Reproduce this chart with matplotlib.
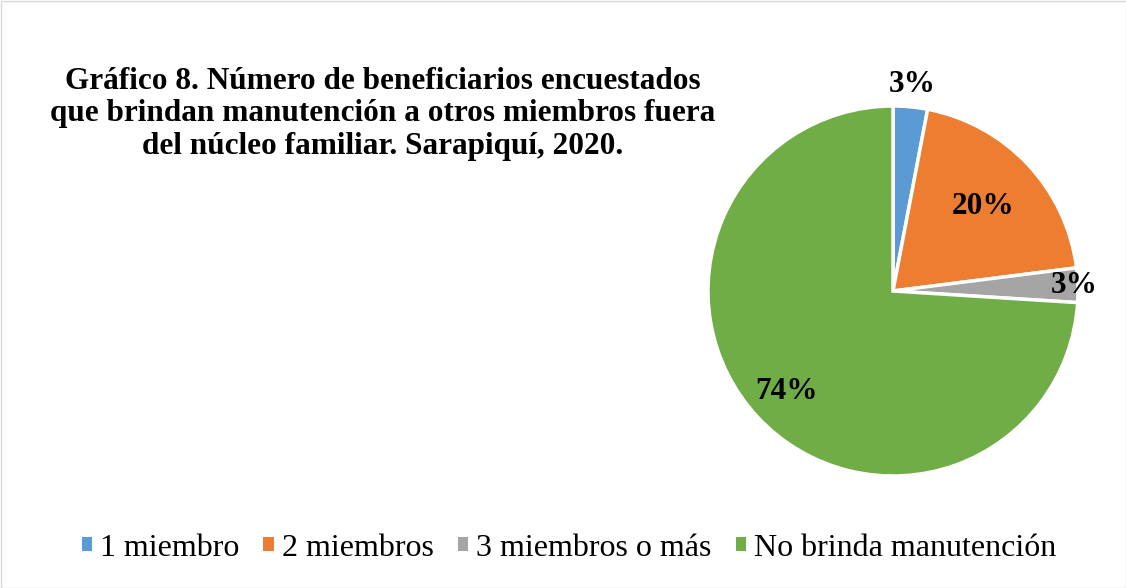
import matplotlib
matplotlib.use("Agg")
import matplotlib.pyplot as plt
import numpy as np
from matplotlib.patches import Patch, Rectangle

categories = ["1 miembro", "2 miembros", "3 miembros o más", "No brinda manutención"]
values = [3, 20, 3, 74]
colors = ["#5B9BD5", "#ED7D31", "#A5A5A5", "#70AD47"]
title = "Gráfico 8. Número de beneficiarios encuestados\nque brindan manutención a otros miembros fuera\ndel núcleo familiar. Sarapiquí, 2020."
label_dist = [1.12, 0.67, 0.98, 0.79]

plt.rcParams['font.family'] = ['Liberation Serif', 'DejaVu Serif']

W, H = 1126, 588
fig = plt.figure(figsize=(W/100, H/100), dpi=100)
fig.patch.set_facecolor("white")
fig.add_artist(Rectangle((0.5/W, 0.5/H), 1-1/W, 1-1/H, transform=fig.transFigure,
                         fill=False, edgecolor="#D9D9D9", linewidth=1))

cx, cy, R = 893, 588-291, 185
ax = fig.add_axes([(cx-R)/W, (cy-R)/H, 2*R/W, 2*R/H])
wedges, texts, autotexts = ax.pie(values, colors=colors, startangle=90, counterclock=False,
                                  radius=1, autopct=lambda p: f"{p:.0f}%",
                                  wedgeprops=dict(edgecolor="white", linewidth=2.5),
                                  textprops=dict(fontsize=22.5, fontweight="bold", color="black"))
for w, t, d in zip(wedges, autotexts, label_dist):
    ang = np.deg2rad((w.theta1 + w.theta2) / 2)
    t.set_position((d*np.cos(ang), d*np.sin(ang)))
    t.set_ha("center"); t.set_va("center")
ax.set_xlim(-1, 1); ax.set_ylim(-1, 1)
ax.set_aspect("equal")
ax.axis("off")

fig.text(383/W, 1-114/H, title, ha="center", va="center", fontsize=22.5,
         fontweight="bold", linespacing=1.14)

handles = [Patch(facecolor=c, edgecolor="none") for c in colors]
fig.legend(handles, categories, loc="center", bbox_to_anchor=(569/W, 1-548/H), ncol=4,
           frameon=False, fontsize=23, handlelength=0.33, handleheight=0.33,
           handletextpad=0.25, columnspacing=0.75)

fig.savefig("out.png", dpi=100)
